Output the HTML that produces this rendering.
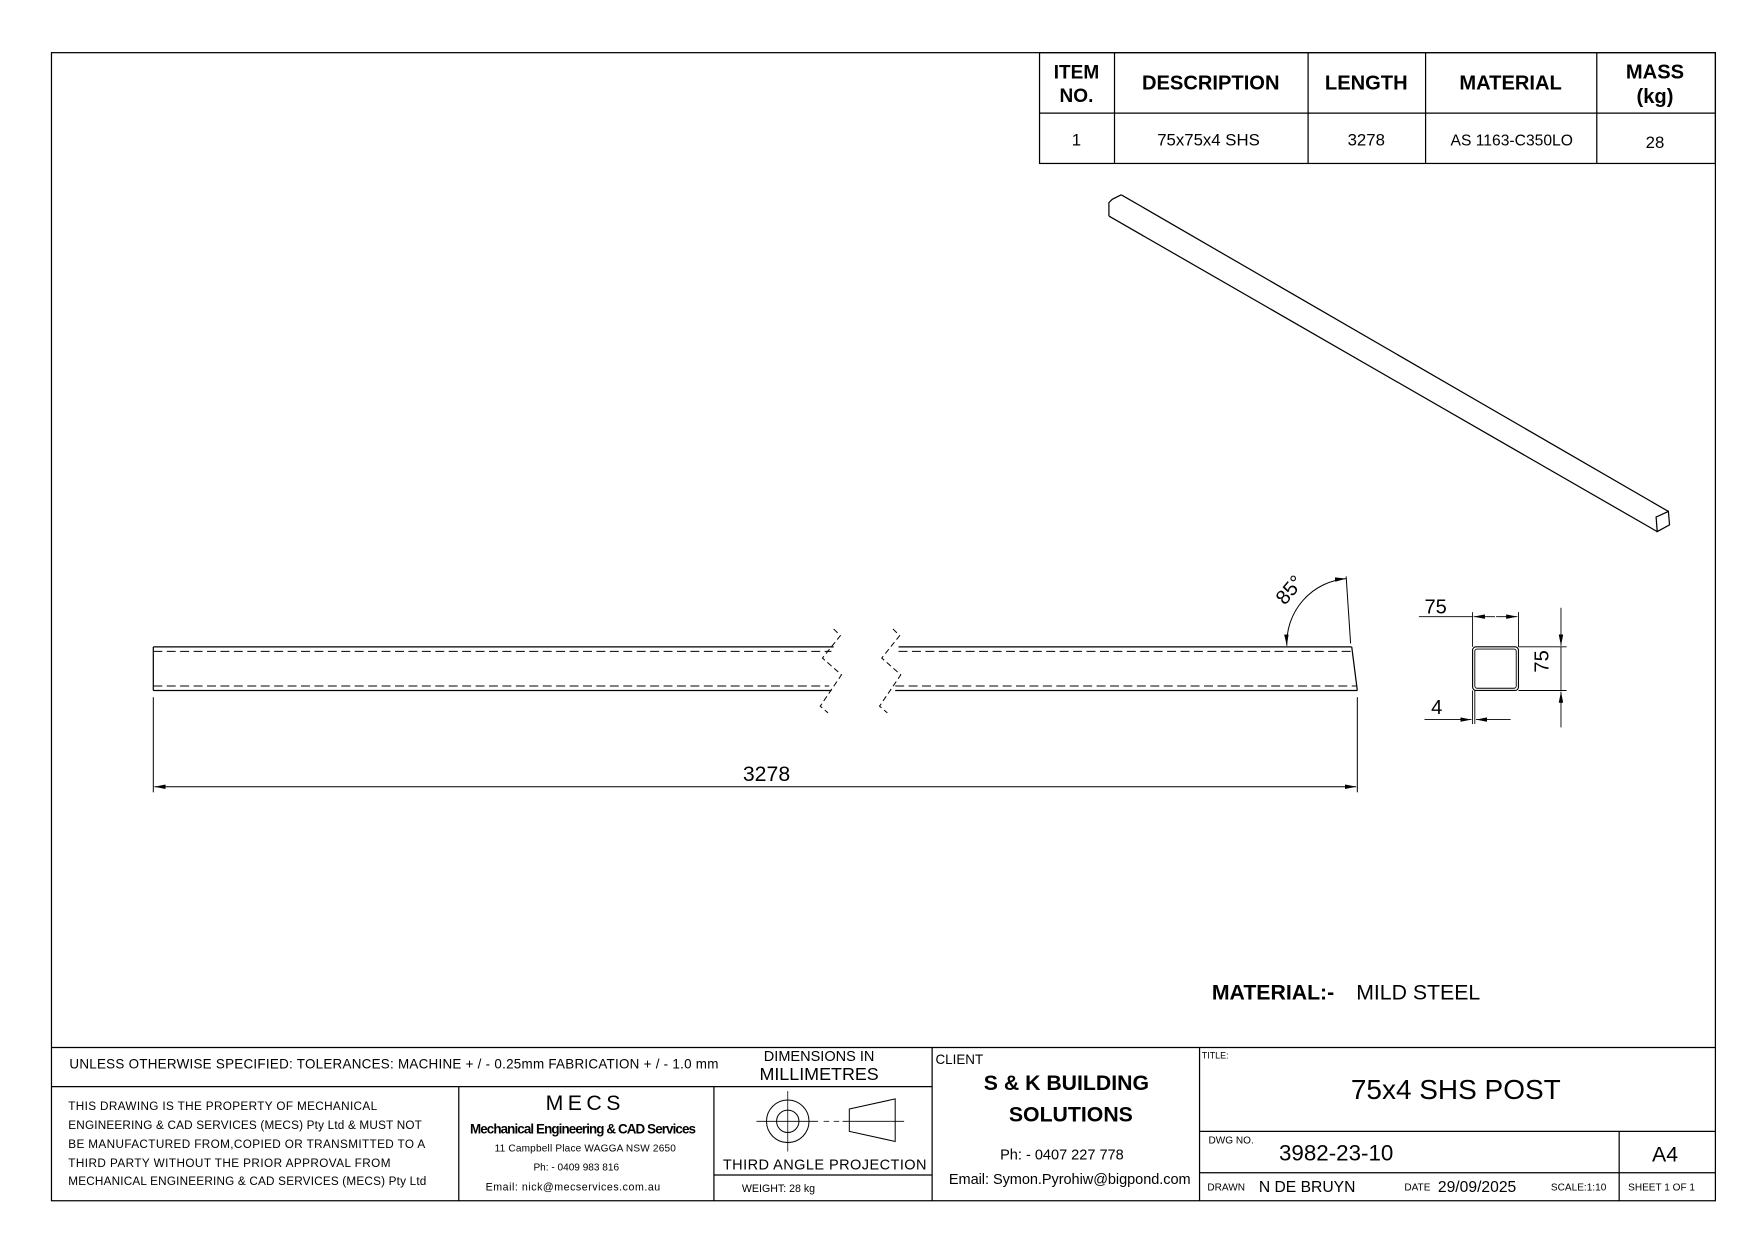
<!DOCTYPE html>
<html><head><meta charset="utf-8"><style>
html,body{margin:0;padding:0;background:#fff;}
svg{display:block;}
text{font-family:"Liberation Sans",sans-serif;fill:#000;}
</style></head><body>
<svg width="1753" height="1240" viewBox="0 0 1566.6 1108" xmlns="http://www.w3.org/2000/svg">
<defs>
<marker id="ar" viewBox="0 0 10 4" refX="10" refY="2" markerWidth="10" markerHeight="4" orient="auto-start-reverse" markerUnits="userSpaceOnUse"><path d="M0,0 L10,2 L0,4z" fill="#000"/></marker>
</defs>
<g stroke="#000" fill="none" stroke-width="1.1">
<rect x="46" y="47" width="1487" height="1026"/>
<rect x="929" y="47" width="604" height="99"/>
<line x1="929" y1="101" x2="1533" y2="101"/>
<line x1="996" y1="47" x2="996" y2="146"/>
<line x1="1169" y1="47" x2="1169" y2="146"/>
<line x1="1274" y1="47" x2="1274" y2="146"/>
<line x1="1427" y1="47" x2="1427" y2="146"/>
<line x1="46" y1="936" x2="1533" y2="936"/>
<line x1="46" y1="971" x2="833" y2="971"/>
<line x1="410" y1="971" x2="410" y2="1073"/>
<line x1="638" y1="971" x2="638" y2="1073"/>
<line x1="833" y1="936" x2="833" y2="1073"/>
<line x1="638" y1="1050" x2="833" y2="1050"/>
<line x1="1072" y1="936" x2="1072" y2="1073"/>
<line x1="1072" y1="1011" x2="1533" y2="1011"/>
<line x1="1072" y1="1048" x2="1533" y2="1048"/>
<line x1="1447" y1="1011" x2="1447" y2="1073"/>
<circle cx="704" cy="1002" r="19" stroke-width="0.9"/>
<circle cx="704" cy="1002" r="10" stroke-width="0.9"/>
<line x1="704" y1="975" x2="704" y2="1029" stroke-width="0.7"/>
<line x1="676" y1="1002" x2="731" y2="1002" stroke-width="0.7"/>
<line x1="736" y1="1002" x2="741" y2="1002" stroke-width="0.7"/>
<line x1="745" y1="1002" x2="750" y2="1002" stroke-width="0.7"/>
<polygon points="759,991 800,982 800,1020 759,1011" stroke-width="0.9"/>
<line x1="753" y1="1002" x2="808" y2="1002" stroke-width="0.7"/>
<polyline points="991,193 991,181 994,178 1002,174"/>
<line x1="1002" y1="174" x2="1491" y2="457"/>
<line x1="991" y1="193" x2="1481" y2="475"/>
<polygon points="1480,462 1491,457 1492,469 1481,475"/>
<line x1="137" y1="578" x2="745" y2="578"/>
<line x1="137" y1="617" x2="743" y2="617"/>
<line x1="137" y1="578" x2="137" y2="617"/>
<line x1="137" y1="582" x2="743" y2="582" stroke-dasharray="8,4" stroke-width="0.9"/>
<line x1="137" y1="613" x2="741" y2="613" stroke-dasharray="8,4" stroke-width="0.9"/>
<polyline points="745,562 751,568 735,588 752,603 733,631 740,637" stroke-dasharray="5,3" stroke-width="0.9"/>
<line x1="803" y1="578" x2="1208" y2="578"/>
<line x1="800" y1="617" x2="1213" y2="617"/>
<line x1="1208" y1="578" x2="1213" y2="617"/>
<line x1="803" y1="582" x2="1208" y2="582" stroke-dasharray="8,4" stroke-width="0.9"/>
<line x1="800" y1="613" x2="1212" y2="613" stroke-dasharray="8,4" stroke-width="0.9"/>
<polyline points="798,562 804,568 788,588 805,603 786,631 793,637" stroke-dasharray="5,3" stroke-width="0.9"/>
<line x1="137" y1="623" x2="137" y2="708" stroke-width="0.9"/>
<line x1="1213" y1="623" x2="1213" y2="708" stroke-width="0.9"/>
<line x1="138" y1="703" x2="1212" y2="703" stroke-width="0.9" marker-start="url(#ar)" marker-end="url(#ar)"/>
<line x1="1203" y1="515" x2="1207" y2="575" stroke-width="0.9"/>
<path d="M1150,577 A58,58 0 0 1 1203,517" stroke-width="0.9" marker-start="url(#ar)" marker-end="url(#ar)"/>
<rect x="1316" y="578" width="41" height="39" rx="3" stroke-width="1"/>
<rect x="1318" y="580" width="37" height="35" rx="2" stroke-width="0.8"/>
<line x1="1316" y1="547" x2="1316" y2="578" stroke-width="0.8"/>
<line x1="1357" y1="547" x2="1357" y2="578" stroke-width="0.8"/>
<line x1="1268" y1="551" x2="1316" y2="551" stroke-width="0.8"/>
<line x1="1317" y1="551" x2="1336" y2="551" stroke-width="0.8" marker-start="url(#ar)"/>
<line x1="1337" y1="551" x2="1356" y2="551" stroke-width="0.8" marker-end="url(#ar)"/>
<line x1="1357" y1="578" x2="1400" y2="578" stroke-width="0.8"/>
<line x1="1357" y1="617" x2="1400" y2="617" stroke-width="0.8"/>
<line x1="1395" y1="543" x2="1395" y2="577" stroke-width="0.8" marker-end="url(#ar)"/>
<line x1="1395" y1="650" x2="1395" y2="618" stroke-width="0.8" marker-end="url(#ar)"/>
<line x1="1395" y1="578" x2="1395" y2="617" stroke-width="0.8"/>
<line x1="1316" y1="617" x2="1316" y2="647" stroke-width="0.8"/>
<line x1="1318" y1="617" x2="1318" y2="647" stroke-width="0.8"/>
<line x1="1273" y1="643" x2="1315" y2="643" stroke-width="0.8" marker-end="url(#ar)"/>
<line x1="1350" y1="643" x2="1319" y2="643" stroke-width="0.8" marker-end="url(#ar)"/>
</g>
<g font-weight="bold" text-anchor="middle" font-size="17">
<text x="962" y="70">ITEM</text><text x="962" y="91">NO.</text>
<text x="1082" y="80" font-size="18">DESCRIPTION</text>
<text x="1221" y="80" font-size="18">LENGTH</text>
<text x="1350" y="80" font-size="18">MATERIAL</text>
<text x="1479" y="70" font-size="18">MASS</text><text x="1479" y="92" font-size="18">(kg)</text>
</g>
<g text-anchor="middle" font-size="15">
<text x="962" y="130">1</text>
<text x="1080" y="130">75x75x4 SHS</text>
<text x="1221" y="130">3278</text>
<text x="1351" y="130" font-size="14">AS 1163-C350LO</text>
<text x="1479" y="132">28</text>
</g>
<text x="685" y="698" font-size="19" text-anchor="middle">3278</text>
<text x="1283" y="548" font-size="18" text-anchor="middle">75</text>
<text x="1284" y="638" font-size="18" text-anchor="middle">4</text>
<text x="1390" y="597" font-size="18" text-anchor="middle" transform="rotate(-90 1384 597)">75</text>
<text x="1157" y="531" font-size="18" text-anchor="middle" transform="rotate(-50 1157 531)">85°</text>
<text x="1083" y="893" font-size="19" font-weight="bold">MATERIAL:-</text>
<text x="1212" y="893" font-size="19">MILD STEEL</text>
<text x="62" y="955" font-size="12" textLength="580">UNLESS OTHERWISE SPECIFIED: TOLERANCES: MACHINE + / - 0.25mm  FABRICATION + / - 1.0 mm</text>
<text x="732" y="948" font-size="13" text-anchor="middle">DIMENSIONS IN</text>
<text x="732" y="965" font-size="16" text-anchor="middle">MILLIMETRES</text>
<g font-size="10.5">
<text x="61" y="992" textLength="276">THIS DRAWING IS THE PROPERTY OF MECHANICAL</text>
<text x="61" y="1009" textLength="316">ENGINEERING &amp; CAD SERVICES (MECS) Pty Ltd &amp; MUST NOT</text>
<text x="61" y="1026" textLength="319">BE MANUFACTURED FROM,COPIED OR TRANSMITTED TO A</text>
<text x="61" y="1043" textLength="288">THIRD PARTY WITHOUT THE PRIOR APPROVAL FROM</text>
<text x="61" y="1059" textLength="320">MECHANICAL ENGINEERING &amp; CAD SERVICES (MECS) Pty Ltd</text>
</g>
<g text-anchor="middle">
<text x="523" y="992" font-size="19" letter-spacing="4">MECS</text>
<text x="521" y="1013" font-size="12" font-weight="bold" textLength="202">Mechanical Engineering &amp; CAD Services</text>
<text x="523" y="1029" font-size="9" textLength="162">11 Campbell Place WAGGA NSW 2650</text>
<text x="515" y="1046" font-size="9">Ph: - 0409 983 816</text>
<text x="512" y="1064" font-size="9.5" textLength="156">Email: nick@mecservices.com.au</text>
<text x="737" y="1045" font-size="13" textLength="182">THIRD ANGLE PROJECTION</text>
</g>
<text x="663" y="1065" font-size="9.5">WEIGHT: 28 kg</text>
<text x="836" y="951" font-size="12">CLIENT</text>
<text x="953" y="974" font-size="19" font-weight="bold" text-anchor="middle">S &amp; K  BUILDING</text>
<text x="957" y="1002" font-size="19" font-weight="bold" text-anchor="middle">SOLUTIONS</text>
<text x="949" y="1036" font-size="13" text-anchor="middle">Ph: - 0407 227 778</text>
<text x="956" y="1058" font-size="13" text-anchor="middle" textLength="216">Email: Symon.Pyrohiw@bigpond.com</text>
<text x="1074" y="946" font-size="8">TITLE:</text>
<text x="1301" y="982" font-size="25" text-anchor="middle">75x4 SHS POST</text>
<text x="1080" y="1022" font-size="9">DWG NO.</text>
<text x="1143" y="1037" font-size="20">3982-23-10</text>
<text x="1488" y="1038" font-size="19" text-anchor="middle">A4</text>
<text x="1079" y="1064" font-size="9">DRAWN</text>
<text x="1125" y="1065" font-size="14">N DE BRUYN</text>
<text x="1255" y="1064" font-size="9">DATE</text>
<text x="1285" y="1065" font-size="14">29/09/2025</text>
<text x="1386" y="1064" font-size="9">SCALE:1:10</text>
<text x="1455" y="1064" font-size="9">SHEET 1 OF 1</text>
</svg>
</body></html>
